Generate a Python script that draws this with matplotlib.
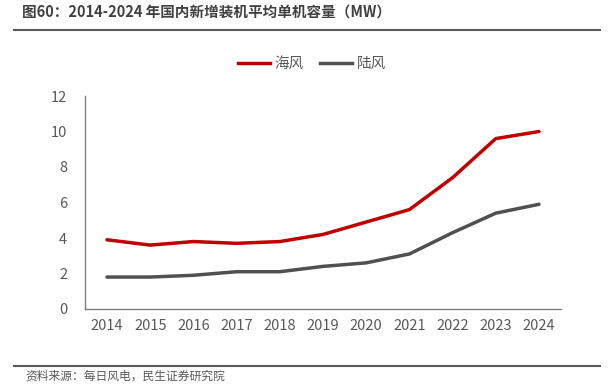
import matplotlib
matplotlib.use("Agg")
import matplotlib.pyplot as plt
from matplotlib.lines import Line2D

plt.rcParams['font.family'] = ['Noto Sans CJK SC', 'DejaVu Sans']

years = ['2014', '2015', '2016', '2017', '2018', '2019', '2020', '2021', '2022', '2023', '2024']
offshore = [3.9, 3.6, 3.8, 3.7, 3.8, 4.2, 4.9, 5.6, 7.4, 9.6, 10.0]
onshore = [1.8, 1.8, 1.9, 2.1, 2.1, 2.4, 2.6, 3.1, 4.3, 5.4, 5.9]
series_names = ['海风', '陆风']
yticks = [0, 2, 4, 6, 8, 10, 12]

W, H = 614, 384
fig = plt.figure(figsize=(W / 100, H / 100), dpi=100)

left, right, top, bottom = 85.4, 560.6, 96, 309
ax = fig.add_axes([left / W, 1 - bottom / H, (right - left) / W, (bottom - top) / H])

x = list(range(len(years)))
ax.plot(x, offshore, color='#C00000', lw=2.5, solid_capstyle='round', solid_joinstyle='round', label=series_names[0])
ax.plot(x, onshore, color='#505050', lw=2.5, solid_capstyle='round', solid_joinstyle='round', label=series_names[1])

ax.set_xlim(-0.5, len(years) - 0.5)
ax.set_ylim(0, 12)
ax.set_yticks(yticks)
ax.set_xticks(x)
ax.set_xticklabels(years)
ax.tick_params(axis='both', length=0, labelsize=10.5, colors='#595959')
ax.tick_params(axis='y', pad=13)
ax.tick_params(axis='x', pad=7)
for s in ['top', 'right']:
    ax.spines[s].set_visible(False)
for s in ['left', 'bottom']:
    ax.spines[s].set_color('#7f7f7f')
    ax.spines[s].set_linewidth(1.0)

handles = [Line2D([], [], color='#C00000', lw=2.5), Line2D([], [], color='#505050', lw=2.5)]
fig.legend(handles, series_names, loc='center', bbox_to_anchor=(312 / W, 1 - 64 / H),
           ncol=2, frameon=False, fontsize=10.5, handlelength=2.2, handletextpad=0.3,
           columnspacing=1.1, labelcolor='#595959')

fig.text(22 / W, 1 - 12 / H, '图60：2014-2024 年国内新增装机平均单机容量（MW）', fontsize=10.5,
         fontweight='bold', color='#404040', va='center', ha='left')
fig.add_artist(Line2D([14 / W, 600 / W], [1 - 30 / H, 1 - 30 / H], color='#595959', lw=1.5))
fig.add_artist(Line2D([14 / W, 600 / W], [1 - 366 / H, 1 - 366 / H], color='#595959', lw=1.5))
fig.text(25 / W, 1 - 376 / H, '资料来源：每日风电，民生证券研究院', fontsize=8.5, color='#595959',
         va='center', ha='left')

fig.savefig('out.png', dpi=100)
